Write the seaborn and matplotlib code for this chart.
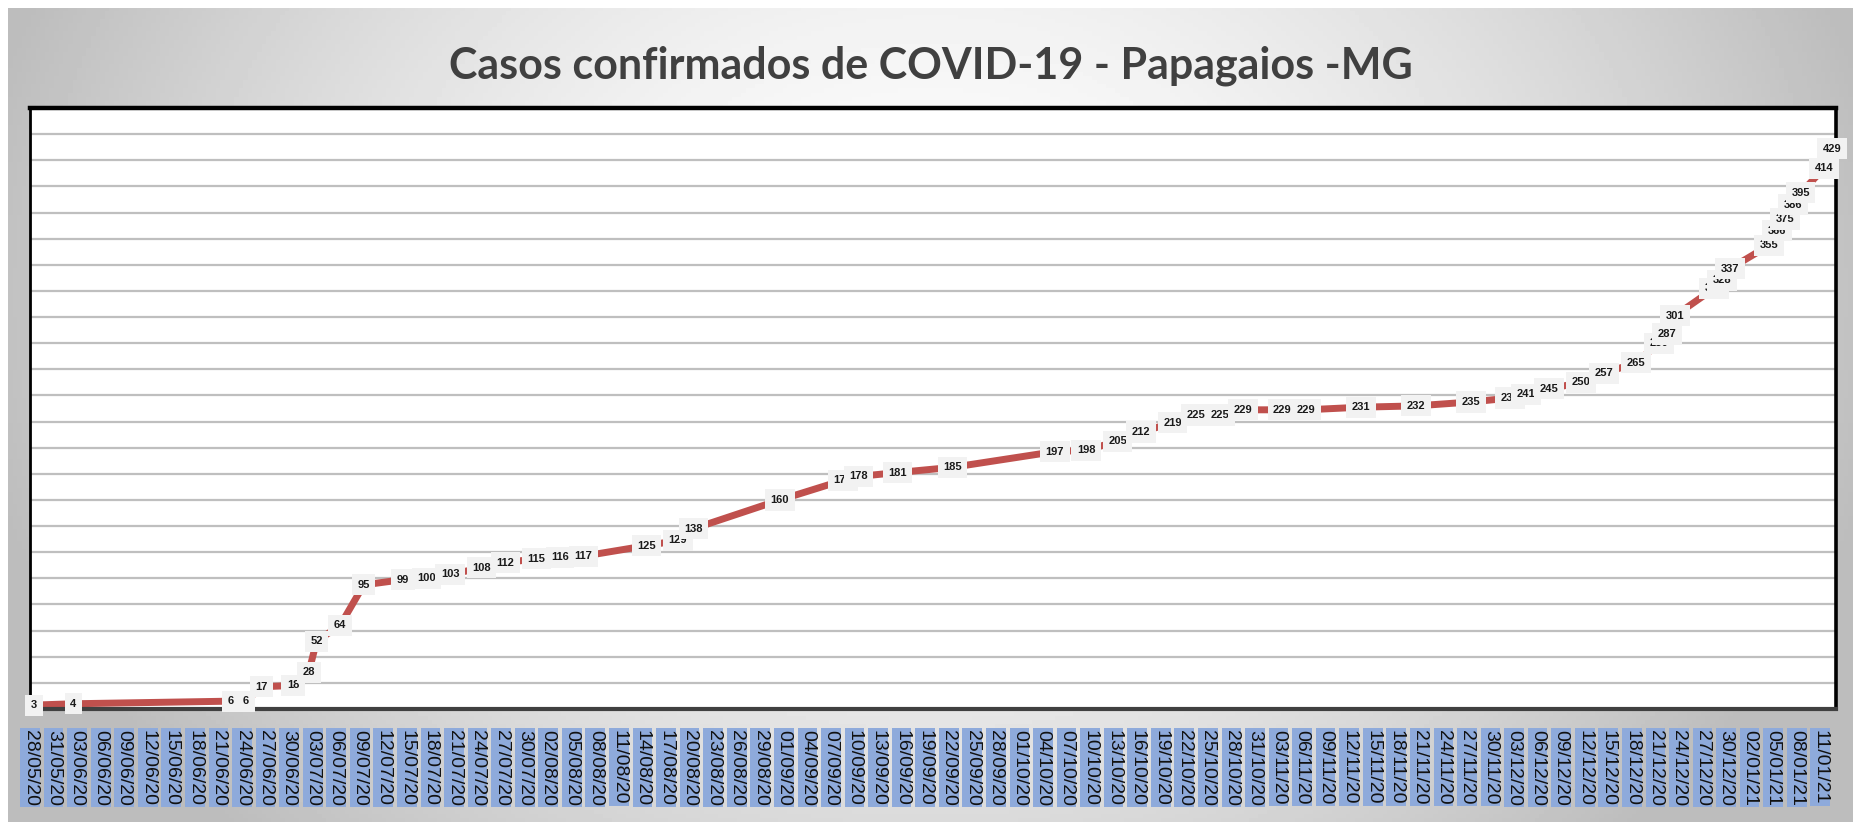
import numpy as np
import pandas as pd
import matplotlib
matplotlib.use("Agg")
import matplotlib.pyplot as plt
import matplotlib.dates as mdates
import seaborn as sns

# dados
datas = ["28/05/20", "02/06/20", "22/06/20", "24/06/20", "26/06/20", "30/06/20",
         "02/07/20", "03/07/20", "06/07/20", "09/07/20", "14/07/20", "17/07/20",
         "20/07/20", "24/07/20", "27/07/20", "31/07/20", "03/08/20", "06/08/20",
         "14/08/20", "18/08/20", "20/08/20", "31/08/20", "08/09/20", "10/09/20",
         "15/09/20", "22/09/20", "05/10/20", "09/10/20", "13/10/20", "16/10/20",
         "20/10/20", "23/10/20", "26/10/20", "29/10/20", "03/11/20", "06/11/20",
         "13/11/20", "20/11/20", "27/11/20", "02/12/20", "04/12/20", "07/12/20",
         "11/12/20", "14/12/20", "18/12/20", "21/12/20", "22/12/20", "23/12/20",
         "28/12/20", "29/12/20", "30/12/20", "04/01/21", "05/01/21", "06/01/21",
         "07/01/21", "08/01/21", "11/01/21", "12/01/21"]
casos = [3, 4, 6, 6, 17, 18,
         28, 52, 64, 95, 99, 100,
         103, 108, 112, 115, 116, 117,
         125, 129, 138, 160, 175, 178,
         181, 185, 197, 198, 205, 212,
         219, 225, 225, 229, 229, 229,
         231, 232, 235, 238, 241, 245,
         250, 257, 265, 280, 287, 301,
         322, 328, 337, 355, 366, 375,
         386, 395, 414, 429]

titulo = "Casos confirmados de COVID-19 - Papagaios -MG"
inicio = "28/05/20"
ultimo_tick = "11/01/21"
y_max = 460
y_passo = 20

df = pd.DataFrame({"data": pd.to_datetime(datas, format="%d/%m/%y") + pd.Timedelta(hours=12),
                   "casos": casos})
t0 = pd.to_datetime(inicio, format="%d/%m/%y")
t1 = t0 + pd.Timedelta(days=230)
ticks = pd.date_range(t0, pd.to_datetime(ultimo_tick, format="%d/%m/%y"), freq="3D")

sns.set_style("white")
plt.rcParams["font.family"] = ["Liberation Sans", "DejaVu Sans"]

fig = plt.figure(figsize=(18.61, 8.22), dpi=100)
fig.patch.set_facecolor("white")

# fundo cinza em degrade
bg = fig.add_axes([8 / 1861, 0, 1845 / 1861, 814 / 822], zorder=-10)
gx, gy = np.meshgrid(np.linspace(0, 1, 400), np.linspace(0, 1, 200))
r = np.sqrt(((gx - 0.5) / 0.5) ** 2 + ((gy - 0.35) / 0.9) ** 2)
grad = np.clip(1 - 0.24 * r ** 1.6, 0.74, 1)
bg.imshow(grad, cmap="gray", vmin=0, vmax=1, aspect="auto", extent=[0, 1, 0, 1])
bg.axis("off")

ax = fig.add_axes([30 / 1861, 1 - 709 / 822, 1806 / 1861, 601 / 822])
ax.set_facecolor("white")

sns.lineplot(data=df, x="data", y="casos", ax=ax, color="#C0504D",
             linewidth=5.0, zorder=2)

for i, (x, v) in enumerate(zip(df["data"], df["casos"])):
    ax.text(x, v, str(v), ha="center", va="center", fontsize=8,
            fontweight="bold", color="#1a1a1a", zorder=3 + i * 0.01,
            bbox=dict(boxstyle="square,pad=0.5", facecolor="#F2F2F2", edgecolor="none"))

ax.set_xlim(t0, t1)
ax.set_ylim(0, y_max)
ax.set_yticks(np.arange(y_passo, y_max + 1, y_passo))
ax.set_yticklabels([])
ax.tick_params(axis="y", length=0)
ax.yaxis.grid(True, color="#bfbfbf", linewidth=1.6)
ax.xaxis.grid(False)
ax.set_axisbelow(True)

ax.set_xticks(ticks)
ax.xaxis.set_major_formatter(mdates.DateFormatter("%d/%m/%y"))
ax.tick_params(axis="x", direction="out", length=6, width=2.2, color="#404040",
               pad=9, labelsize=14, labelcolor="#111111")
for lbl in ax.get_xticklabels():
    lbl.set_rotation(270)
    lbl.set_ha("center")
    lbl.set_va("top")
    lbl.set_bbox(dict(facecolor="#8EAADB", edgecolor="none", pad=1.0))

ax.set_xlabel("")
ax.set_ylabel("")
for side, lw, col in [("top", 3.2, "black"), ("left", 2.0, "black"),
                      ("right", 2.6, "black"), ("bottom", 3.0, "#404040")]:
    ax.spines[side].set_visible(True)
    ax.spines[side].set_linewidth(lw)
    ax.spines[side].set_color(col)

fig.text(0.5, 0.92, titulo, ha="center", va="center", fontsize=31,
         fontweight="bold", color="#404040", family=["Lato", "DejaVu Sans"])

fig.savefig("out.png", dpi=100)
